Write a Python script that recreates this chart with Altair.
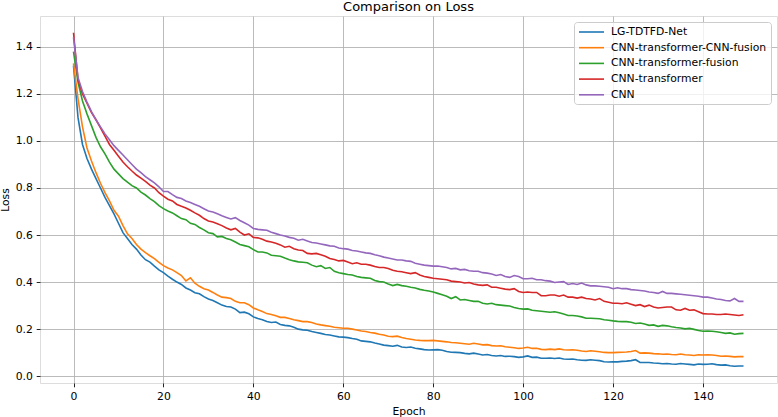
import altair as alt
import pandas as pd

# Training loss per epoch for the five compared models
epochs = list(range(150))

names = [
    "LG-TDTFD-Net",
    "CNN-transformer-CNN-fusion",
    "CNN-transformer-fusion",
    "CNN-transformer",
    "CNN",
]
colors = ["#1f77b4", "#ff7f0e", "#2ca02c", "#d62728", "#9467bd"]

loss_lg_tdtfd = [
    1.320, 1.100, 0.985, 0.925, 0.880, 0.840, 0.800, 0.760, 0.725, 0.690,
    0.650, 0.610, 0.585, 0.560, 0.540, 0.515, 0.495, 0.485, 0.468, 0.452,
    0.440, 0.425, 0.412, 0.400, 0.390, 0.375, 0.366, 0.355, 0.350, 0.338,
    0.328, 0.322, 0.312, 0.302, 0.296, 0.294, 0.285, 0.270, 0.272, 0.265,
    0.252, 0.245, 0.240, 0.232, 0.228, 0.230, 0.220, 0.216, 0.214, 0.208,
    0.200, 0.197, 0.195, 0.190, 0.186, 0.182, 0.177, 0.175, 0.171, 0.167,
    0.166, 0.164, 0.160, 0.157, 0.150, 0.148, 0.146, 0.141, 0.137, 0.132,
    0.130, 0.127, 0.131, 0.124, 0.122, 0.124, 0.119, 0.116, 0.113, 0.111,
    0.112, 0.113, 0.110, 0.105, 0.102, 0.101, 0.100, 0.097, 0.095, 0.098,
    0.094, 0.090, 0.092, 0.088, 0.086, 0.088, 0.084, 0.085, 0.083, 0.080,
    0.082, 0.086, 0.080, 0.081, 0.076, 0.076, 0.077, 0.075, 0.077, 0.073,
    0.072, 0.073, 0.070, 0.068, 0.067, 0.070, 0.068, 0.066, 0.061, 0.060,
    0.061, 0.061, 0.063, 0.064, 0.066, 0.070, 0.058, 0.058, 0.058, 0.056,
    0.055, 0.053, 0.054, 0.052, 0.051, 0.054, 0.052, 0.050, 0.048, 0.052,
    0.050, 0.051, 0.053, 0.049, 0.047, 0.048, 0.044, 0.042, 0.043, 0.043,
]

loss_cnn_tr_cnn_fusion = [
    1.330, 1.180, 1.060, 0.970, 0.915, 0.865, 0.820, 0.780, 0.745, 0.705,
    0.680, 0.640, 0.605, 0.585, 0.560, 0.540, 0.525, 0.512, 0.500, 0.484,
    0.470, 0.460, 0.452, 0.440, 0.428, 0.405, 0.418, 0.395, 0.382, 0.372,
    0.366, 0.356, 0.345, 0.336, 0.334, 0.330, 0.318, 0.312, 0.312, 0.304,
    0.290, 0.282, 0.275, 0.266, 0.262, 0.257, 0.250, 0.250, 0.245, 0.240,
    0.236, 0.232, 0.232, 0.228, 0.222, 0.218, 0.215, 0.212, 0.208, 0.206,
    0.204, 0.204, 0.200, 0.196, 0.192, 0.190, 0.186, 0.183, 0.178, 0.175,
    0.170, 0.168, 0.170, 0.164, 0.160, 0.157, 0.154, 0.152, 0.151, 0.151,
    0.152, 0.150, 0.148, 0.146, 0.143, 0.142, 0.140, 0.138, 0.136, 0.140,
    0.137, 0.133, 0.134, 0.130, 0.128, 0.129, 0.125, 0.123, 0.121, 0.118,
    0.120, 0.123, 0.118, 0.119, 0.114, 0.113, 0.115, 0.113, 0.116, 0.112,
    0.111, 0.112, 0.110, 0.107, 0.105, 0.108, 0.106, 0.104, 0.101, 0.100,
    0.100, 0.101, 0.102, 0.103, 0.105, 0.109, 0.098, 0.099, 0.098, 0.096,
    0.095, 0.093, 0.094, 0.092, 0.091, 0.094, 0.091, 0.090, 0.088, 0.091,
    0.090, 0.091, 0.090, 0.088, 0.085, 0.086, 0.084, 0.082, 0.083, 0.083,
]

loss_cnn_tr_fusion = [
    1.380, 1.250, 1.170, 1.115, 1.065, 1.015, 0.975, 0.945, 0.910, 0.880,
    0.860, 0.840, 0.825, 0.810, 0.800, 0.782, 0.770, 0.755, 0.742, 0.725,
    0.712, 0.702, 0.694, 0.682, 0.670, 0.665, 0.650, 0.645, 0.632, 0.622,
    0.610, 0.606, 0.592, 0.594, 0.585, 0.580, 0.570, 0.560, 0.555, 0.550,
    0.538, 0.528, 0.528, 0.524, 0.514, 0.512, 0.510, 0.502, 0.495, 0.490,
    0.486, 0.484, 0.482, 0.472, 0.465, 0.470, 0.458, 0.462, 0.446, 0.440,
    0.436, 0.432, 0.430, 0.424, 0.420, 0.418, 0.416, 0.407, 0.402, 0.400,
    0.392, 0.385, 0.390, 0.385, 0.382, 0.378, 0.375, 0.369, 0.365, 0.362,
    0.358, 0.352, 0.346, 0.340, 0.330, 0.338, 0.324, 0.326, 0.322, 0.318,
    0.318, 0.310, 0.307, 0.310, 0.304, 0.302, 0.300, 0.298, 0.292, 0.288,
    0.285, 0.286, 0.280, 0.278, 0.276, 0.274, 0.272, 0.274, 0.270, 0.264,
    0.258, 0.258, 0.256, 0.252, 0.246, 0.246, 0.245, 0.244, 0.240, 0.238,
    0.235, 0.233, 0.232, 0.232, 0.229, 0.224, 0.226, 0.222, 0.216, 0.218,
    0.212, 0.216, 0.214, 0.210, 0.207, 0.205, 0.201, 0.203, 0.199, 0.194,
    0.191, 0.192, 0.191, 0.189, 0.186, 0.182, 0.184, 0.178, 0.181, 0.182,
]

loss_cnn_tr = [
    1.460, 1.260, 1.200, 1.160, 1.120, 1.090, 1.055, 1.020, 0.985, 0.960,
    0.935, 0.910, 0.890, 0.872, 0.855, 0.842, 0.828, 0.812, 0.800, 0.780,
    0.765, 0.752, 0.745, 0.730, 0.722, 0.715, 0.705, 0.694, 0.684, 0.670,
    0.660, 0.655, 0.648, 0.640, 0.630, 0.622, 0.628, 0.612, 0.600, 0.605,
    0.590, 0.588, 0.582, 0.574, 0.570, 0.565, 0.558, 0.548, 0.552, 0.542,
    0.536, 0.534, 0.522, 0.520, 0.522, 0.516, 0.510, 0.500, 0.496, 0.490,
    0.492, 0.485, 0.478, 0.482, 0.476, 0.476, 0.472, 0.466, 0.462, 0.462,
    0.458, 0.450, 0.446, 0.444, 0.440, 0.436, 0.440, 0.430, 0.424, 0.420,
    0.416, 0.414, 0.412, 0.410, 0.404, 0.402, 0.400, 0.396, 0.398, 0.392,
    0.388, 0.386, 0.388, 0.378, 0.378, 0.374, 0.370, 0.368, 0.372, 0.360,
    0.356, 0.358, 0.356, 0.356, 0.342, 0.342, 0.345, 0.345, 0.340, 0.345,
    0.336, 0.336, 0.332, 0.336, 0.330, 0.328, 0.324, 0.330, 0.318, 0.314,
    0.310, 0.310, 0.308, 0.312, 0.306, 0.300, 0.304, 0.296, 0.302, 0.294,
    0.290, 0.292, 0.294, 0.294, 0.282, 0.280, 0.288, 0.280, 0.282, 0.274,
    0.266, 0.264, 0.264, 0.262, 0.262, 0.264, 0.262, 0.260, 0.258, 0.261,
]

loss_cnn = [
    1.440, 1.270, 1.210, 1.165, 1.125, 1.090, 1.060, 1.030, 1.005, 0.980,
    0.960, 0.940, 0.920, 0.900, 0.880, 0.865, 0.848, 0.835, 0.822, 0.805,
    0.785, 0.785, 0.772, 0.760, 0.755, 0.745, 0.738, 0.730, 0.722, 0.712,
    0.702, 0.698, 0.690, 0.682, 0.675, 0.668, 0.674, 0.662, 0.652, 0.642,
    0.628, 0.624, 0.622, 0.620, 0.612, 0.606, 0.600, 0.596, 0.590, 0.586,
    0.578, 0.582, 0.575, 0.568, 0.566, 0.562, 0.558, 0.554, 0.552, 0.545,
    0.542, 0.540, 0.534, 0.532, 0.528, 0.524, 0.522, 0.516, 0.512, 0.506,
    0.502, 0.498, 0.494, 0.494, 0.490, 0.488, 0.480, 0.476, 0.472, 0.470,
    0.468, 0.468, 0.465, 0.462, 0.456, 0.458, 0.452, 0.454, 0.448, 0.446,
    0.446, 0.440, 0.438, 0.434, 0.428, 0.432, 0.424, 0.420, 0.428, 0.424,
    0.414, 0.414, 0.416, 0.410, 0.410, 0.406, 0.404, 0.398, 0.400, 0.402,
    0.390, 0.394, 0.390, 0.396, 0.388, 0.384, 0.384, 0.382, 0.380, 0.378,
    0.372, 0.376, 0.372, 0.372, 0.368, 0.366, 0.364, 0.362, 0.358, 0.356,
    0.352, 0.360, 0.352, 0.352, 0.350, 0.348, 0.346, 0.344, 0.342, 0.340,
    0.336, 0.336, 0.332, 0.328, 0.326, 0.322, 0.320, 0.330, 0.318, 0.318,
]

series = [loss_lg_tdtfd, loss_cnn_tr_cnn_fusion, loss_cnn_tr_fusion, loss_cnn_tr, loss_cnn]

frames = []
for order, (name, values) in enumerate(zip(names, series)):
    frames.append(pd.DataFrame({"Epoch": epochs, "Loss": values, "Model": name, "order": order}))
df = pd.concat(frames, ignore_index=True)

FONT = "DejaVu Sans"
GRID = "#b0b0b0"

x_axis = alt.Axis(
    values=[0, 20, 40, 60, 80, 100, 120, 140],
    title="Epoch",
    grid=True, gridColor=GRID, gridWidth=0.86,
    domain=False,
    ticks=True, tickSize=3.8, tickWidth=0.86, tickColor="black",
    labelFont=FONT, labelFontSize=10.8, labelColor="black", labelPadding=3.8,
    labelFlush=False,
    titleFont=FONT, titleFontSize=10.8, titleFontWeight="normal", titleColor="black",
    titlePadding=4.5,
)
y_axis = alt.Axis(
    values=[0.0, 0.2, 0.4, 0.6, 0.8, 1.0, 1.2, 1.4],
    format=".1f",
    title="Loss",
    grid=True, gridColor=GRID, gridWidth=0.86,
    domain=False,
    ticks=True, tickSize=3.8, tickWidth=0.86, tickColor="black",
    labelFont=FONT, labelFontSize=10.8, labelColor="black", labelPadding=3.8,
    labelFlush=False,
    titleFont=FONT, titleFontSize=10.8, titleFontWeight="normal", titleColor="black",
    titlePadding=5,
)

# Legend handles: a horizontal stroke drawn to the right of the symbol anchor
legend = alt.Legend(
    title=None,
    orient="none",
    legendX=534,
    legendY=6,
    direction="vertical",
    symbolType="M-1,0H4",
    symbolSize=100,
    symbolStrokeWidth=1.6,
    labelFont=FONT,
    labelFontSize=10.8,
    labelColor="black",
    labelOffset=21,
    rowPadding=4.7,
    padding=4,
    strokeColor="#cccccc",
    fillColor="rgba(255,255,255,0.8)",
    cornerRadius=3,
)

chart = (
    alt.Chart(df)
    .mark_line(strokeWidth=1.6, clip=True)
    .encode(
        x=alt.X("Epoch:Q", scale=alt.Scale(domain=[-7.45, 156.45], nice=False, zero=False), axis=x_axis),
        y=alt.Y("Loss:Q", scale=alt.Scale(domain=[-0.029, 1.531], nice=False, zero=False), axis=y_axis),
        color=alt.Color("Model:N", scale=alt.Scale(domain=names, range=colors), legend=legend),
        order=alt.Order("order:Q"),
    )
    .properties(
        width=737,
        height=367,
        autosize="none",
        padding={"left": 40, "top": 16, "right": 1, "bottom": 34},
        title=alt.TitleParams(
            "Comparison on Loss",
            font=FONT, fontSize=13, fontWeight="normal", color="black",
            anchor="middle", frame="group", orient="top",
            baseline="alphabetic", offset=0, dy=8,
        ),
    )
    .configure_view(stroke="black", strokeWidth=0.86)
    .configure(background="white")
)

chart.save("out.html", embed_options={"renderer": "svg", "actions": False})
